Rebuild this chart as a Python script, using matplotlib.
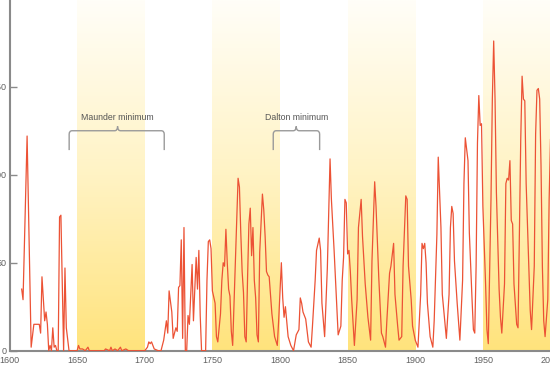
import numpy as np
import matplotlib
matplotlib.use('Agg')
import matplotlib.pyplot as plt
from matplotlib.path import Path
from matplotlib.patches import PathPatch
from matplotlib.colors import LinearSegmentedColormap

plt.rcParams['font.family'] = ['Liberation Sans', 'DejaVu Sans']

# sunspot numbers (year, value)
years = [1609, 1610, 1613, 1616, 1618, 1622, 1623, 1624, 1626, 1627, 1628, 1629, 1630, 1631,
         1632, 1633, 1634, 1635, 1636, 1637, 1638, 1640, 1641, 1642, 1644,
         1650, 1651, 1652, 1654, 1656, 1658, 1659, 1670, 1671, 1674, 1675, 1676, 1678, 1680,
         1682, 1683, 1686, 1688, 1700,
         1702, 1703, 1704, 1705, 1707, 1710, 1712, 1714, 1716, 1717, 1718, 1720, 1721, 1723,
         1724, 1725, 1726, 1727, 1728, 1729, 1730, 1731, 1732, 1733, 1735, 1736, 1738, 1739,
         1740, 1741, 1742, 1745, 1746, 1747, 1748, 1749, 1750,
         1752, 1753, 1754, 1756, 1757, 1758, 1759, 1760, 1761, 1762, 1763, 1764, 1765, 1767,
         1769, 1770, 1771, 1772, 1773, 1774, 1775, 1776, 1777, 1778, 1779, 1780, 1781, 1782,
         1783, 1784, 1785, 1787, 1788, 1789, 1790, 1791, 1792, 1794, 1796, 1798, 1799, 1801,
         1802, 1803, 1804, 1806, 1808, 1810, 1812, 1814, 1815, 1816, 1817, 1819, 1821, 1823,
         1824, 1826, 1827, 1829, 1830, 1831, 1833, 1835, 1837, 1838, 1840, 1842, 1843, 1845,
         1846, 1847, 1848, 1849, 1850, 1851, 1852, 1853, 1855, 1857, 1858, 1860, 1861, 1863,
         1865, 1867, 1868, 1870, 1871, 1873, 1875, 1876, 1878, 1879, 1881, 1882, 1884, 1885,
         1887, 1888, 1890, 1891, 1893, 1894, 1895, 1897, 1898, 1900, 1902, 1904, 1905, 1906,
         1907, 1908, 1909, 1911, 1913, 1914, 1916, 1917, 1919, 1920, 1922, 1923, 1925, 1926,
         1927, 1928, 1929, 1931, 1933, 1935, 1936, 1937, 1939, 1940, 1942, 1943, 1944, 1945,
         1946, 1947, 1948, 1949, 1950, 1952, 1953, 1954, 1956, 1957, 1958, 1959, 1960, 1962,
         1963, 1964, 1966, 1967, 1968, 1969, 1970, 1971, 1972, 1973, 1975, 1976, 1977, 1978,
         1979, 1980, 1981, 1982, 1984, 1985, 1986, 1988, 1989, 1990, 1991, 1992, 1993, 1994,
         1995, 1996, 1998, 1999, 2000]
spots = [35, 29, 122, 2, 15, 15, 10, 42, 17, 22, 15, 0, 3, 0,
         13, 2, 3, 0, 0, 76, 77, 0, 47, 13, 0,
         0, 3, 1, 1, 0, 2, 0, 0, 1, 0, 2, 0, 1, 0,
         2, 0, 1, 0, 0,
         2, 5, 4, 5, 1, 0, 0, 6, 17, 10, 34, 22, 7, 13,
         11, 36, 37, 63, 7, 70, 0, 0, 20, 15, 49, 17, 53, 35,
         57, 20, 0, 0, 40, 62, 63, 58, 34,
         27, 8, 5, 21, 40, 50, 48, 69, 50, 35, 31, 11, 3, 50,
         98, 93, 67, 45, 33, 8, 5, 41, 72, 81, 54, 70, 40, 30,
         9, 5, 56, 89, 80, 65, 45, 43, 42, 21, 8, 3, 17, 50,
         30, 19, 25, 8, 3, 0, 9, 12, 30, 27, 22, 18, 5, 2,
         14, 40, 57, 64, 57, 27, 8, 47, 109, 86, 57, 25, 9, 14,
         40, 53, 86, 84, 55, 57, 45, 29, 3, 29, 70, 86, 65, 38,
         19, 6, 51, 96, 82, 42, 10, 8, 2, 17, 44, 48, 61, 32,
         14, 6, 8, 48, 88, 86, 48, 29, 14, 6, 2, 32, 61, 58,
         61, 50, 27, 8, 2, 17, 66, 110, 70, 32, 15, 7, 32, 70,
         82, 78, 51, 27, 6, 40, 95, 121, 108, 67, 29, 12, 10, 48,
         118, 145, 128, 129, 82, 38, 12, 4, 86, 143, 176, 143, 90, 35,
         19, 10, 38, 95, 98, 97, 108, 74, 72, 38, 15, 13, 67, 120,
         156, 143, 142, 95, 48, 23, 12, 48, 123, 148, 149, 143, 105, 48,
         17, 8, 29, 86, 120]

band_starts = [1650, 1750, 1850, 1950]
band_width = 50
x_ticks = [1600, 1650, 1700, 1750, 1800, 1850, 1900, 1950, 2000]
y_ticks = [0, 50, 100, 150]

# minima annotations: label, left, centre, right
minima = [('Maunder minimum', 1644.1, 1679.9, 1714.4),
          ('Dalton minimum', 1795.0, 1812.0, 1829.3)]

fig = plt.figure(figsize=(5.5, 3.67), dpi=100)
ax = fig.add_axes([0.0173, 0.0444, 0.9836, 0.9556])
ymax = 199.3

#gradient bands
cmap = LinearSegmentedColormap.from_list('band', ['#ffe37c', '#fff3c4', '#fffef8'])
grad = np.linspace(0, 1, 256).reshape(-1, 1)
for b in band_starts:
    ax.imshow(grad, cmap=cmap, origin='lower', aspect='auto',
              extent=(b, b + band_width, 0, ymax), zorder=0)

ax.plot(years, spots, color='#ec5235', lw=0.9, zorder=3, solid_joinstyle='round')

#braces
def brace(x0, xc, x1, ybot=114.0, ytop=125.0, ypeak=127.5, rx=2.2, ry=2.0):
    verts = [(x0, ybot), (x0, ytop - ry), (x0, ytop), (x0 + rx, ytop),
             (xc - rx, ytop), (xc, ytop), (xc, ypeak),
             (xc, ytop), (xc + rx, ytop),
             (x1 - rx, ytop), (x1, ytop), (x1, ytop - ry), (x1, ybot)]
    codes = [Path.MOVETO, Path.LINETO, Path.CURVE3, Path.CURVE3,
             Path.LINETO, Path.CURVE3, Path.CURVE3,
             Path.CURVE3, Path.CURVE3,
             Path.LINETO, Path.CURVE3, Path.CURVE3, Path.LINETO]
    ax.add_patch(PathPatch(Path(verts, codes), fill=False, ec='#9a9a9a', lw=1.0, zorder=4))

for label, x0, xc, x1 in minima:
    brace(x0, xc, x1)
    ax.text(xc, 132.5, label, ha='center', va='center', fontsize=6.3, color='#555555')

ax.set_xlim(1600, 2000)
ax.set_ylim(0, ymax)
ax.set_xticks(x_ticks)
ax.set_yticks(y_ticks)
for s in ['top', 'right']:
    ax.spines[s].set_visible(False)
for s in ['left', 'bottom']:
    ax.spines[s].set_color('#8a8a8a')
    ax.spines[s].set_linewidth(1.5)
ax.tick_params(axis='x', length=0, pad=4, labelsize=6.5, labelcolor='#606060')
ax.tick_params(axis='y', direction='in', length=5, width=1, color='#8a8a8a',
               pad=2, labelsize=6.5, labelcolor='#606060')

fig.savefig('out.png', dpi=100)
